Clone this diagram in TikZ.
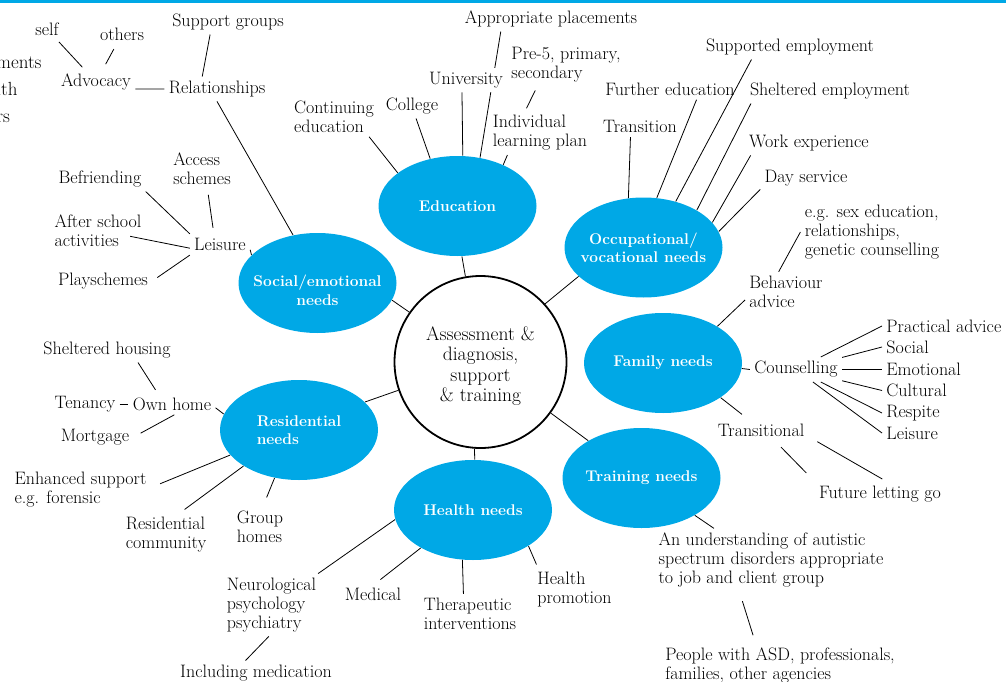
\documentclass[tikz,border=0pt]{standalone}
\usepackage{fontspec}
\usetikzlibrary{shapes.geometric}

\definecolor{needblue}{RGB}{0,168,230}
\newcommand{\leaffont}{\fontsize{18}{19}\selectfont}
\newcommand{\needfont}{\fontsize{15.5}{18.5}\selectfont\bfseries}
\newcommand{\hubfont}{\fontsize{19.5}{20.5}\selectfont}

\tikzset{
  need/.style={ellipse, fill=needblue, minimum width=158pt, minimum height=100pt, inner sep=0pt},
  needtext/.style={text=white, font=\needfont, align=center, inner sep=0pt},
  leaf/.style={font=\leaffont, align=left, inner sep=4pt},
  link/.style={line width=0.8pt},
}

\begin{document}
\begin{tikzpicture}[x=1pt, y=-1pt, link]
\useasboundingbox (0,0) rectangle (1006,682);
\fill[needblue] (0,0) rectangle (1006,3);
\node[anchor=west, align=left, inner sep=0pt, font=\fontsize{19}{27}\selectfont] (margin) at (-4,90) {ments\\ith\\rs};

% Hub
\node[circle, draw, line width=1.8pt, minimum size=172pt, inner sep=0pt] (hub) at (480.5,362) {};
\node[font=\hubfont, align=center] (hubtext) at (480.5,366) {Assessment \&\\diagnosis,\\support\\\& training};

% Needs
\node[need] (edu) at (457.5,206) {};
\node[needtext] (edutext) at (edu) {Education};
\node[need] (occ) at (643.5,247.5) {};
\node[needtext] (occtext) at (occ) {Occupational/\\vocational needs};
\node[need] (soc) at (317.5,283) {};
\node[needtext] (soctext) at (317.5,290) {Social/emotional\\needs};
\node[need] (res) at (299,430) {};
\node[needtext, align=left] (restext) at (res) {Residential\\needs};
\node[need] (fam) at (663,363) {};
\node[needtext] (famtext) at (fam) {Family needs};
\node[need] (tra) at (641.5,478) {};
\node[needtext] (tratext) at (tra) {Training needs};
\node[need] (hea) at (473,510) {};
\node[needtext] (heatext) at (hea) {Health needs};

\draw (edu.-85) -- (hub.100);
\draw (hub.42) -- (occ.-156);
\draw (soc.-13) -- (hub.145);
\draw (res.23) -- (hub.-161);
\draw (hub.-94) -- (hea.88);
\draw (hub.-36) -- (tra.145);

% Social/emotional
\begin{scope}
\node[leaf] (self) at (47,29) {self};
\node[leaf] (others) at (122,34) {others};
\node[leaf] (advocacy) at (96,82) {Advocacy};
\node[leaf] (support) at (228,22) {Support groups};
\node[leaf] (relation) at (217,89) {Relationships};
\node[leaf] (befriend) at (100,179) {Befriending};
\node[leaf] (access) at (202,168.5) {Access\\schemes};
\node[leaf] (afterschool) at (98,231) {After school\\activities};
\node[leaf] (leisure) at (220,244.5) {Leisure};
\node[leaf] (play) at (103,281) {Playschemes};
\draw[shorten <=3pt, shorten >=3pt] (self) -- (advocacy);
\draw[shorten <=5pt, shorten >=6pt] (others) -- (advocacy);
\draw (advocacy.-10) -- (relation.west);
\draw (support.-145) -- (relation.140);
\draw (relation.south) -- (soc.117);
\draw (befriend.south east) -- (leisure.north west);
\draw[shorten <=6pt, shorten >=6pt] (access.-75) -- (leisure.120);
\draw[shorten <=-16pt] (afterschool.-10) -- (leisure.-173);
\draw[shorten <=6pt] (play.east) -- (leisure.south west);
\draw (leisure.-10) -- (soc.157);
\end{scope}

% Education
\begin{scope}
\node[leaf] (continuing) at (334,116.5) {Continuing\\education};
\node[leaf] (college) at (412,106) {College};
\node[leaf] (placements) at (551,19) {Appropriate placements};
\draw (placements.-166) -- (edu.65);
\node[leaf, fill=white] (university) at (466,80) {University};
\node[leaf] (prefive) at (566,65) {Pre-5, primary,\\secondary};
\node[leaf] (ilp) at (540,133) {Individual\\learning plan};
\draw (continuing.-30) -- (edu.151);
\draw (college.-72) -- (edu.120);
\draw (university.-108) -- (edu.84);
\draw[shorten <=4pt, shorten >=3pt] (prefive.-143) -- (ilp.124);
\draw (ilp.-146) -- (edu.42);
\end{scope}

% Occupational/vocational
\begin{scope}
\node[leaf] (transition) at (640,126.5) {Transition};
\node[leaf] (further) at (670,89) {Further education};
\node[leaf] (supported) at (790,47) {Supported employment};
\node[leaf] (sheltered) at (830,91) {Sheltered employment};
\node[leaf] (workexp) at (809,143) {Work experience};
\node[leaf] (dayservice) at (806,178) {Day service};
\draw (transition.-132) -- (occ.107);
\draw (further.-22) -- (occ.75);
\draw (supported.-162) -- (occ.55);
\draw (sheltered.-171) -- (occ.35);
\draw (workexp.-168) -- (occ.20);
\draw (dayservice.-166) -- (occ.12);
\end{scope}

% Family
\begin{scope}
\node[leaf] (sexed) at (872,232) {e.g. sex education,\\relationships,\\genetic counselling};
\node[leaf] (behaviour) at (786,292) {Behaviour\\advice};
\node[leaf] (counselling) at (796,369.5) {Counselling};
\foreach \name/\y/\word in {practical/326/Practical advice, social/347/Social,
    emotional/369.5/Emotional, cultural/390.5/Cultural, respite/413/Respite,
    famleisure/433/Leisure}
  \node[leaf, anchor=west] (\name) at (882,\y) {\word};
\node[leaf] (transitional) at (761,430) {Transitional};
\node[leaf] (letgo) at (880,494) {Future letting go};
\draw (sexed.west) -- (behaviour.110);
\draw (behaviour.-169) -- (fam.34);
\draw (counselling.west) -- (fam.-4);
\foreach \name in {practical, social, emotional, cultural, respite, famleisure}
  \draw (counselling) -- (\name.west);
\draw[shorten >=8pt] (fam.-31) -- (transitional.140);
\draw[shorten <=9pt, shorten >=12pt] (transitional.-38) -- (letgo.north west);
\draw[shorten <=10pt, shorten >=5pt] (transitional.-8) -- (letgo.62);
\end{scope}

% Training
\begin{scope}
\node[leaf] (understanding) at (771,560) {An understanding of autistic\\spectrum disorders appropriate\\to job and client group};
\node[leaf] (people) at (780,665) {People with ASD, professionals,\\families, other agencies};
\draw (tra.-35) -- (understanding.151);
\draw[shorten <=10pt, shorten >=8pt] (understanding.-135) -- (people.138);
\end{scope}

% Health
\begin{scope}
\node[leaf] (neuro) at (271.5,605) {Neurological\\psychology\\psychiatry};
\node[leaf] (medication) at (256,673) {Including medication};
\node[leaf] (medical) at (373,594) {Medical};
\node[leaf] (therapeutic) at (470,614) {Therapeutic\\interventions};
\node[leaf] (promotion) at (574.5,590) {Health\\promotion};
\draw (neuro.34) -- (hea.-173);
\draw[shorten <=6pt] (medical.76) -- (hea.-144);
\draw (therapeutic.108) -- (hea.-102);
\draw[shorten <=4pt] (promotion.149) -- (hea.-33);
\draw (neuro.-95) -- (medication.130);
\end{scope}

% Residential
\begin{scope}
\node[leaf] (shhousing) at (107,350) {Sheltered housing};
\node[leaf] (tenancy) at (85,404) {Tenancy};
\node[leaf] (ownhome) at (172,404) {Own home};
\node[leaf] (mortgage) at (95,437) {Mortgage};
\node[leaf] (enhanced) at (80.5,490) {Enhanced support\\e.g. forensic};
\node[leaf] (community) at (166,535) {Residential\\community};
\node[leaf] (group) at (260,527) {Group\\homes};
\draw[shorten >=4pt] (shhousing.-22) -- (ownhome.143);
\draw (tenancy) -- (ownhome);
\draw (ownhome.-5) -- (res.168);
\draw[shorten <=8pt] (mortgage.east) -- (ownhome.-78);
\draw[shorten <=10pt] (enhanced.2) -- (res.-160);
\draw[shorten <=6pt] (community.58) -- (res.-147);
\draw[shorten <=10pt] (group.82) -- (res.-117);
\end{scope}
\end{tikzpicture}
\end{document}
